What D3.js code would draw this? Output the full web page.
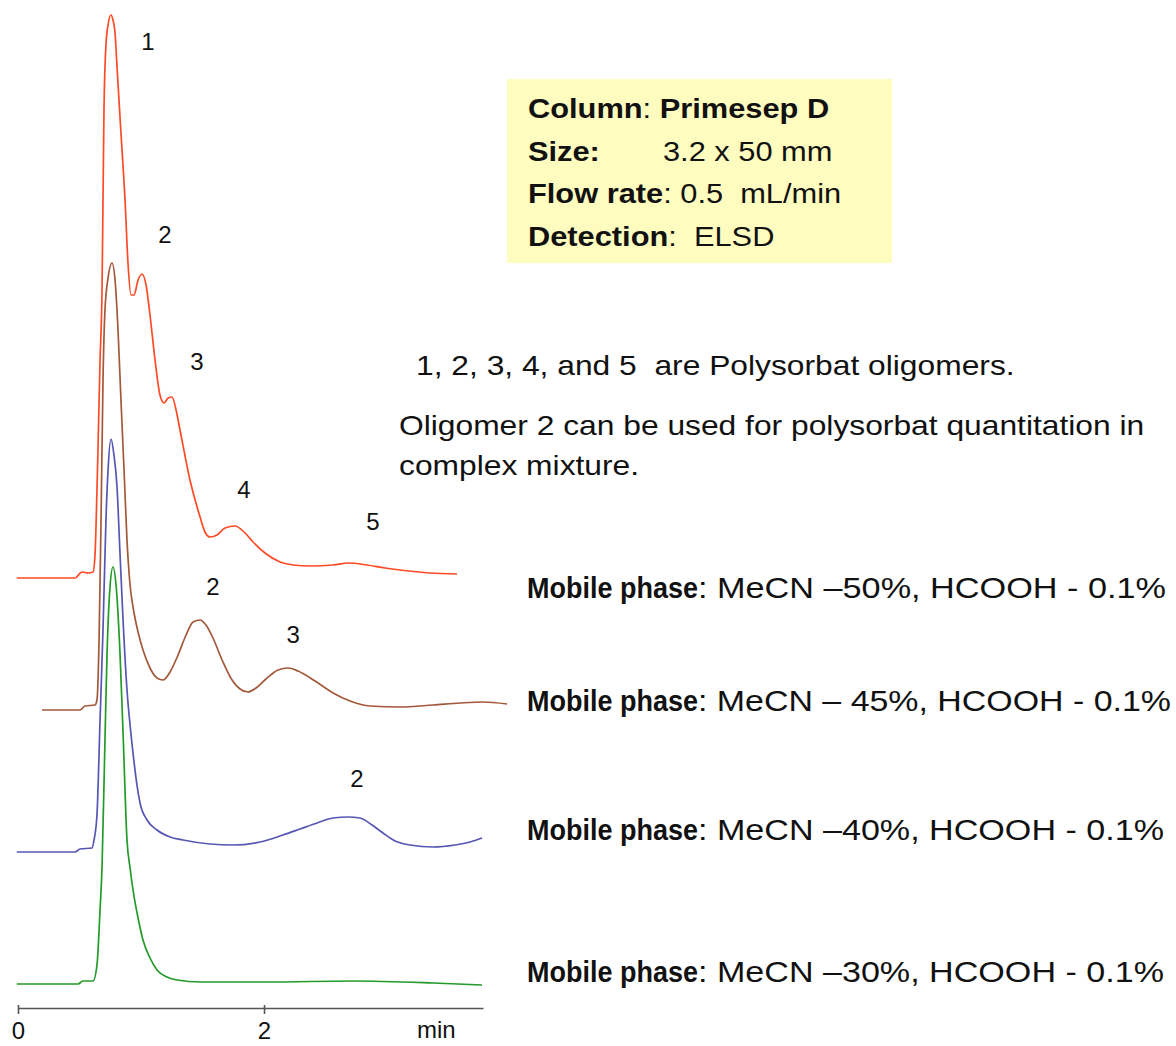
<!DOCTYPE html>
<html>
<head>
<meta charset="utf-8">
<script src="https://cdn.jsdelivr.net/npm/d3@7"></script>
<style>
  body { margin: 0; background: #fff; }
  svg text { font-family: "Liberation Sans", Arial, sans-serif; fill: #111; white-space: pre; }
</style>
</head>
<body>
<div id="chart"></div>
<script>
// chromatograms: [retention time (min), detector signal above own baseline]
const run50 = [[-0.01,0],[0.463,0],[0.520,6],[0.569,5],[0.610,6],[0.626,23],[0.642,88],[0.650,128],[0.667,218],[0.683,288],[0.691,378],[0.699,468],[0.715,533],[0.732,553],[0.756,563],[0.772,558],[0.789,545],[0.805,511],[0.837,445],[0.870,378],[0.894,315],[0.919,283],[0.943,283],[0.976,298],[1.008,304],[1.041,293],[1.073,263],[1.114,218],[1.154,183],[1.187,175],[1.220,180],[1.252,181],[1.285,168],[1.317,148],[1.398,98],[1.480,61],[1.520,46],[1.561,41],[1.618,43],[1.683,50],[1.764,52],[1.846,45],[1.911,36],[2.008,25],[2.130,16],[2.236,13],[2.374,12],[2.561,13],[2.683,15],[2.837,13],[2.984,10],[3.106,8],[3.350,5],[3.569,4]];
const run45 = [[0.195,0],[0.504,0],[0.545,4],[0.626,5],[0.642,10],[0.659,70],[0.675,190],[0.691,330],[0.707,400],[0.732,432],[0.764,447],[0.789,430],[0.813,380],[0.837,310],[0.862,240],[0.886,170],[0.911,125],[0.935,103],[0.976,78],[1.016,60],[1.073,42],[1.130,32],[1.179,30],[1.236,38],[1.301,55],[1.366,75],[1.423,88],[1.480,90],[1.528,85],[1.585,72],[1.659,50],[1.740,30],[1.805,21],[1.870,18],[1.935,22],[2.016,31],[2.114,40],[2.195,42],[2.276,39],[2.415,29],[2.561,17],[2.699,9],[2.862,4],[3.106,3],[3.374,5],[3.593,7],[3.780,8],[3.976,6]];
const run40 = [[-0.01,0],[0.463,0],[0.504,3],[0.602,4],[0.618,12],[0.642,37],[0.667,132],[0.691,222],[0.715,332],[0.732,382],[0.756,413],[0.780,397],[0.805,365],[0.829,299],[0.854,232],[0.886,162],[0.911,127],[0.935,99],[0.967,67],[0.992,49],[1.049,32],[1.130,22],[1.236,15],[1.341,12],[1.561,8],[1.748,7],[1.967,10],[2.154,17],[2.293,23],[2.431,29],[2.561,34],[2.683,35],[2.780,34],[2.878,27],[2.967,19],[3.065,11],[3.187,7],[3.374,5],[3.553,7],[3.675,10],[3.772,14]];
const run30 = [[-0.01,0],[0.488,0],[0.528,3],[0.610,3],[0.642,19],[0.667,74],[0.683,117],[0.707,244],[0.724,331],[0.748,397],[0.772,417],[0.797,399],[0.829,331],[0.854,251],[0.886,144],[0.911,116],[0.935,94],[0.976,66],[1.016,44],[1.073,26],[1.130,14],[1.211,7],[1.293,4],[1.480,2],[2.024,2],[2.724,3],[3.374,1],[3.772,-1]];

const runs = [run50, run45, run40, run30];
const runOffsets = [406, 274, 132, 0];
const runColors = ["#ff4a26", "#a4583a", "#5656b4", "#239a2a"];
const mobilePhases = ["MeCN \u201350%, HCOOH - 0.1%", "MeCN \u2013 45%, HCOOH - 0.1%", "MeCN \u201340%, HCOOH - 0.1%", "MeCN \u201330%, HCOOH - 0.1%"];

// peak numbers: run index, time, signal above that run's baseline
const peakLabels = [
  {run: 0, t: 1.057, v: 528, text: "1"},
  {run: 0, t: 1.195, v: 335, text: "2"},
  {run: 0, t: 1.455, v: 208, text: "3"},
  {run: 0, t: 1.837, v: 80, text: "4"},
  {run: 0, t: 2.886, v: 48, text: "5"},
  {run: 1, t: 1.585, v: 115, text: "2"},
  {run: 1, t: 2.236, v: 67, text: "3"},
  {run: 2, t: 2.756, v: 65, text: "2"}
];
const xTicks = [0, 2];

const conditions = [
  [["Column", true], [": ", false], ["Primesep D", true]],
  [["Size:", true]],
  [["Flow rate", true], [": 0.5  mL/min", false]],
  [["Detection", true], [":  ELSD", false]]
];
const sizeValue = "3.2 x 50 mm";
const notes = ["1, 2, 3, 4, and 5  are Polysorbat oligomers.", "Oligomer 2 can be used for polysorbat quantitation in", "complex mixture."];

const width = 1176, height = 1046;
const svg = d3.select("#chart").append("svg")
    .attr("width", width)
    .attr("height", height);

const x = d3.scaleLinear().domain([0, 3.78]).range([18, 483]);
const y = d3.scaleLinear().domain([0, 980]).range([984, 4]);

// axis
const axis = svg.append("g")
    .attr("transform", "translate(0,1008)")
    .call(d3.axisBottom(x).tickValues(xTicks).tickSize(6).tickSizeOuter(0).tickPadding(8).tickFormat(d3.format("d")));
axis.select(".domain").attr("stroke", "#555").attr("stroke-width", 1.6);
axis.selectAll(".tick line").attr("stroke", "#555").attr("stroke-width", 1.6).attr("y1", -3);
axis.selectAll(".tick text").style("font-size", "24px").style("font-family", "Liberation Sans, Arial, sans-serif").attr("fill", "#111");
svg.append("text")
    .attr("x", x(3.4)).attr("y", 1038)
    .attr("text-anchor", "middle")
    .style("font-size", "24px")
    .text("min");

// traces
runs.forEach((run, i) => {
  const line = d3.line()
      .x(d => x(d[0]))
      .y(d => y(d[1] + runOffsets[i]))
      .curve(d3.curveMonotoneX);
  svg.append("path")
      .datum(run)
      .attr("fill", "none")
      .attr("stroke", runColors[i])
      .attr("stroke-width", 1.7)
      .attr("stroke-linejoin", "round")
      .attr("d", line);
});

svg.selectAll(".peak").data(peakLabels).join("text")
    .attr("class", "peak")
    .attr("x", d => x(d.t))
    .attr("y", d => y(d.v + runOffsets[d.run]))
    .attr("text-anchor", "middle")
    .style("font-size", "24px")
    .text(d => d.text);

// conditions box
svg.append("rect")
    .attr("x", 507).attr("y", 79)
    .attr("width", 385).attr("height", 184)
    .attr("fill", "#fffcbf");
const boxBase = [118, 161, 203, 246];
conditions.forEach((parts, i) => {
  const t = svg.append("text")
      .attr("transform", `translate(528,${boxBase[i]}) scale(1.1,1)`)
      .style("font-size", "28px");
  parts.forEach(p => t.append("tspan").style("font-weight", p[1] ? "bold" : "normal").text(p[0]));
});
svg.append("text")
    .attr("transform", `translate(663,${boxBase[1]}) scale(1.1,1)`)
    .style("font-size", "28px")
    .text(sizeValue);

// notes
const noteX = [416, 399, 399], noteY = [375, 435, 475];
notes.forEach((n, i) => {
  svg.append("text")
      .attr("transform", `translate(${noteX[i]},${noteY[i]}) scale(1.135,1)`)
      .style("font-size", "28px")
      .text(n);
});

// mobile phase labels: bold head, regular rest stretched to the right edge
const mpY = [598, 711, 840, 982];
const mpRight = [1166, 1171, 1164, 1164];
mobilePhases.forEach((m, i) => {
  const head = svg.append("text")
      .attr("transform", `translate(527,${mpY[i]}) scale(1,1.08)`)
      .style("font-size", "27px")
      .style("font-weight", "bold")
      .text("Mobile phase");
  const start = 527 + head.node().getComputedTextLength();
  svg.append("text")
      .attr("transform", `translate(${start},${mpY[i]}) scale(1,1.08)`)
      .style("font-size", "27px")
      .attr("textLength", mpRight[i] - start)
      .attr("lengthAdjust", "spacingAndGlyphs")
      .text(": " + m);
});
</script>
</body>
</html>
